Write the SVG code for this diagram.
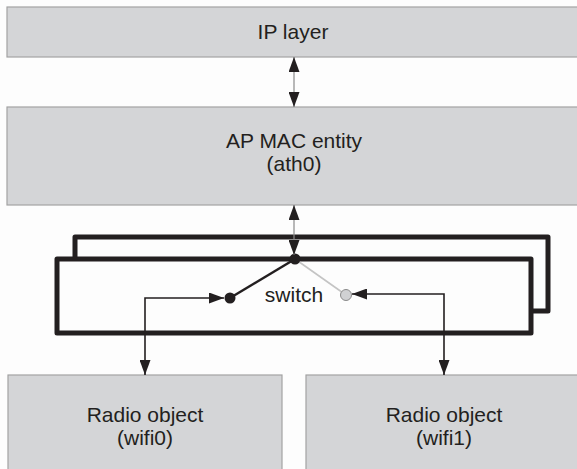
<svg xmlns="http://www.w3.org/2000/svg" width="577" height="469" viewBox="0 0 577 469">
<defs>
<style>
.box{fill:#d4d5d7;stroke:#a3a3a3;stroke-width:1.2}
.t{font-family:"Liberation Sans",Arial,sans-serif;font-size:21px;fill:#231f20;text-anchor:middle}
.frame{fill:#fdfdfd;stroke:#231f20;stroke-width:5;stroke-linejoin:round}
.thin{fill:none;stroke:#8a8a8a;stroke-width:1.2}
.conn{fill:none;stroke:#231f20;stroke-width:1.6}
</style>
<marker id="ah" viewBox="0 0 15 11" refX="15" refY="5.5" markerWidth="15" markerHeight="11" markerUnits="userSpaceOnUse" orient="auto-start-reverse">
<path d="M0,0 L15,5.5 L0,11 Z" fill="#231f20"/>
</marker>
</defs>
<rect width="577" height="469" fill="#fdfdfd"/>
<g id="ip-layer">
<rect class="box" x="7" y="7" width="580" height="50"/>
<text class="t" x="293" y="39">IP layer</text>
</g>
<g id="ap-mac">
<rect class="box" x="7" y="107" width="580" height="98"/>
<text class="t" x="294" y="148">AP MAC entity</text>
<text class="t" x="294" y="171">(ath0)</text>
</g>
<g id="radio-wifi0">
<rect class="box" x="8" y="375" width="274" height="100"/>
<text class="t" x="145" y="422">Radio object</text>
<text class="t" x="145" y="445">(wifi0)</text>
</g>
<g id="radio-wifi1">
<rect class="box" x="306" y="375" width="280" height="100"/>
<text class="t" x="444" y="422">Radio object</text>
<text class="t" x="444" y="445">(wifi1)</text>
</g>
<g id="switch">
<rect class="frame" x="75" y="237" width="473" height="74"/>
<rect class="frame" x="57" y="259" width="474" height="74"/>
<line x1="295" y1="259" x2="230" y2="298" stroke="#231f20" stroke-width="2.5"/>
<line x1="295" y1="259" x2="346" y2="295" stroke="#c4c4c4" stroke-width="1.6"/>
<circle cx="295" cy="259" r="5.5" fill="#231f20"/>
<circle cx="230" cy="298" r="5.5" fill="#231f20"/>
<circle cx="346" cy="295" r="5.5" fill="#d0d1d3" stroke="#8a8a8a" stroke-width="1"/>
<text class="t" x="294" y="302">switch</text>
</g>
<g id="connectors">
<line class="thin" x1="294" y1="57" x2="294" y2="107" marker-start="url(#ah)" marker-end="url(#ah)"/>
<line class="thin" x1="294" y1="205" x2="294" y2="255" marker-start="url(#ah)" marker-end="url(#ah)"/>
<polyline class="conn" points="224,298 145,298 145,375" marker-start="url(#ah)" marker-end="url(#ah)"/>
<polyline class="conn" points="352,294 444,294 444,375" marker-start="url(#ah)" marker-end="url(#ah)"/>
</g>
</svg>
